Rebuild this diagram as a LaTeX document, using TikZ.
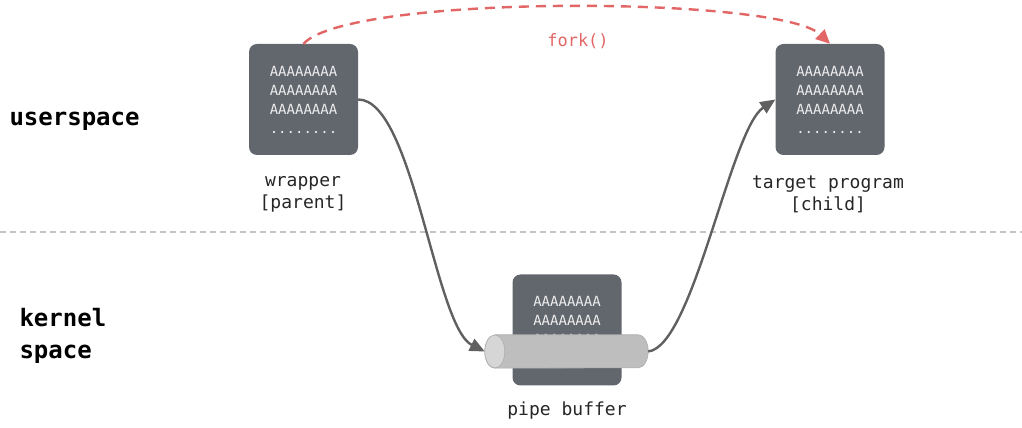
\documentclass[tikz,border=0pt]{standalone}
\usepackage{fontspec}
\setmonofont{DejaVu Sans Mono}
\usetikzlibrary{arrows.meta}
\definecolor{boxgray}{RGB}{98,102,109}
\definecolor{boxtext}{RGB}{236,236,236}
\definecolor{arrowgray}{RGB}{96,96,96}
\definecolor{forkred}{RGB}{226,102,102}
\definecolor{sepgray}{RGB}{196,196,196}
\definecolor{pipebody}{RGB}{190,190,190}
\definecolor{pipecap}{RGB}{214,214,214}
\definecolor{pipeline}{RGB}{172,172,172}
\tikzset{
  membox/.style={fill=boxgray, rounded corners=8pt, minimum width=109pt, minimum height=111pt,
    inner sep=0pt, align=center, text=boxtext,
    font=\ttfamily\fontsize{14}{19}\selectfont},
  caption/.style={align=center, font=\ttfamily\fontsize{18}{22}\selectfont, text=black!85},
  region/.style={anchor=west, align=left, font=\ttfamily\bfseries\fontsize{24}{32}\selectfont},
  flow/.style={draw=arrowgray, line width=2.4pt, -{Triangle[length=15pt,width=13pt]}},
  forkarrow/.style={draw=forkred, line width=2.4pt, dash pattern=on 10pt off 7pt,
    -{Triangle[length=14pt,width=13pt]}},
}
\begin{document}
\begin{tikzpicture}[x=1pt,y=1pt]
\useasboundingbox (0,0) rectangle (1022,428);
% boundary between user and kernel space
\coordinate (sepL) at (0,196);
\coordinate (sepR) at (1022,196);
\draw[sepgray, line width=1.5pt, dash pattern=on 6pt off 4pt] (sepL) -- (sepR);
% region labels
\node[region] (user) at (6,307) {userspace};
\node[region] (kernel) at (16,92) {kernel\\space};
% memory blocks
\node[membox] (wrapper) at (303.5,328.5) {AAAAAAAA\\AAAAAAAA\\AAAAAAAA\\........};
\node[membox] (target) at (830,328.5) {AAAAAAAA\\AAAAAAAA\\AAAAAAAA\\........};
\node[membox] (buffer) at (567,98) {AAAAAAAA\\AAAAAAAA\\AAAAAAAA\\........};
% the pipe running through the buffer: body with a rounded far end, and a lit near cap
\node[minimum width=163pt, minimum height=33pt, inner sep=0pt] (pipe) at (566.5,76.5) {};
\path[fill=pipebody, draw=pipeline, line width=0.6pt]
  ([xshift=10pt]pipe.north west) -- ([xshift=-10pt]pipe.north east)
  arc[start angle=90, end angle=-90, x radius=10pt, y radius=16.5pt]
  -- ([xshift=10pt]pipe.south west)
  arc[start angle=270, end angle=90, x radius=10pt, y radius=16.5pt] -- cycle;
\path[fill=pipecap, draw=pipeline, line width=0.6pt]
  ([xshift=10pt]pipe.west) ellipse[x radius=10pt, y radius=16.5pt];
% captions
\node[caption] (wcap) at (303,234) {wrapper\\{}[parent]};
\node[caption] (tcap) at (828,234) {target program\\{}[child]};
\node[caption] (pcap) at (567,17) {pipe buffer};
% data flow
\draw[flow] (wrapper.east) .. controls +(55,0) and +(-50,25) .. (pipe.west);
\draw[flow] (pipe.east) .. controls +(45,5) and +(-45,-30) .. (target.west);
% fork
\draw[forkarrow] (wrapper.north) .. controls +(45,50) and +(-50,48) .. (target.north);
\node[font=\ttfamily\fontsize{17}{20}\selectfont, text=forkred] (forklbl) at (578,387) {fork()};
\end{tikzpicture}
\end{document}
